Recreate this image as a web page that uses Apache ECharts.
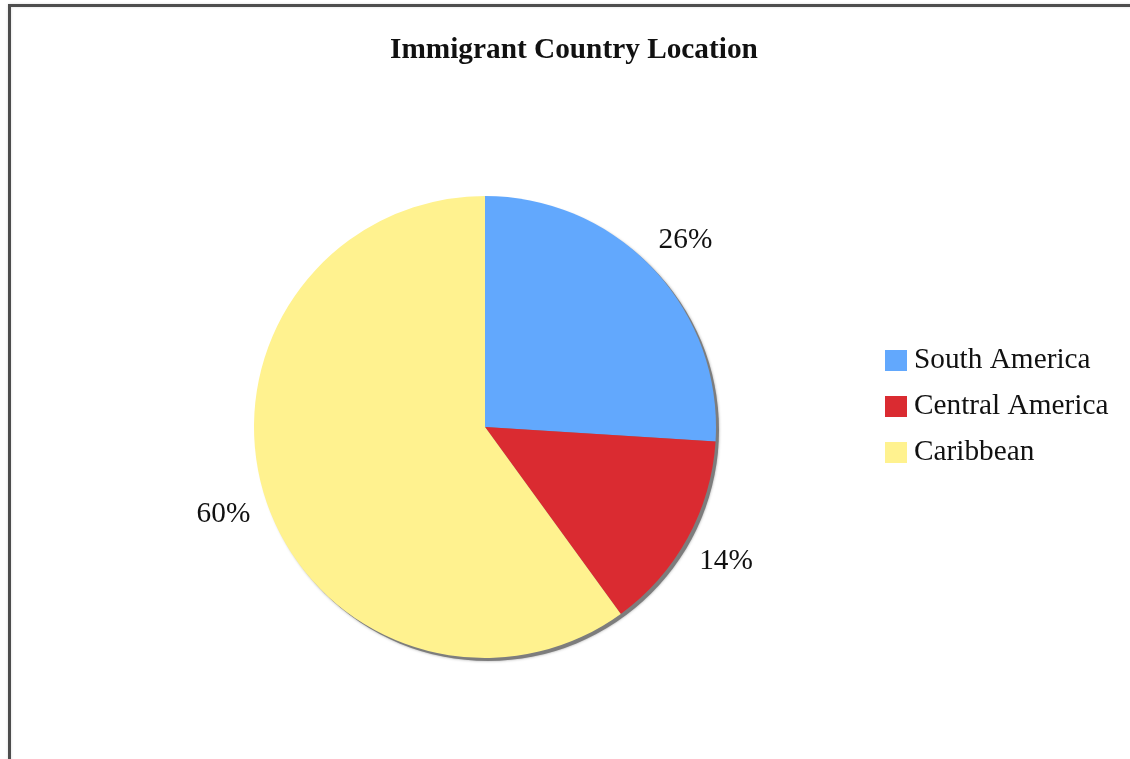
<!DOCTYPE html>
<html>
<head>
<meta charset="utf-8">
<script src="https://cdn.jsdelivr.net/npm/echarts@6/dist/echarts.min.js"></script>
<style>
html,body{margin:0;padding:0;background:#fff;}
#chart{width:1130px;height:759px;}
</style>
</head>
<body>
<div id="chart"></div>
<script>
const titleText = 'Immigrant Country Location';
const categories = ['South America', 'Central America', 'Caribbean'];
const percentValues = [26, 14, 60];
const sliceColors = ['#62A8FD', '#DA2B31', '#FFF28F'];

const chart = echarts.init(document.getElementById('chart'), null, {renderer: 'canvas'});

const mainData = categories.map((c, i) => ({name: c, value: percentValues[i], itemStyle: {color: sliceColors[i]}}));
const labelData = categories.map((c, i) => ({name: c, value: percentValues[i]}));

const CENTER = [485, 427];
const R = 231;
const serif = '"Liberation Serif", "Times New Roman", serif';

chart.setOption({
  animation: false,
  backgroundColor: '#fff',
  graphic: [{
    type: 'rect',
    shape: {x: 9.5, y: 5.5, width: 1300, height: 1000},
    style: {fill: 'none', stroke: '#4d4d4d', lineWidth: 3, shadowColor: 'rgba(0,0,0,0.15)', shadowBlur: 3},
    silent: true,
    z: 0
  }],
  title: {
    text: titleText,
    left: 390,
    top: 36,
    padding: 0,
    textStyle: {fontFamily: serif, fontWeight: 'bold', fontSize: 29.3, color: '#111'}
  },
  legend: {
    data: categories,
    orient: 'vertical',
    left: 885,
    top: 346,
    padding: 0,
    itemWidth: 22,
    itemHeight: 21,
    itemGap: 17,
    icon: 'rect',
    selectedMode: false,
    textStyle: {fontFamily: serif, fontSize: 29.3, color: '#111', lineHeight: 29, padding: [0, 0, 0, 2]}
  },
  series: [
    {
      type: 'pie',
      name: 'main',
      center: CENTER,
      radius: R,
      startAngle: 90,
      clockwise: true,
      silent: true,
      label: {show: false},
      labelLine: {show: false},
      itemStyle: {borderWidth: 0},
      data: mainData,
      z: 3
    },
    {
      type: 'pie',
      name: 'shadow',
      center: [CENTER[0] + 3, CENTER[1] + 3],
      radius: R,
      silent: true,
      label: {show: false},
      labelLine: {show: false},
      itemStyle: {color: '#7d7d7d', shadowColor: 'rgba(0,0,0,0.35)', shadowBlur: 3},
      data: [{value: 1, name: ''}],
      z: 2
    },
    {
      type: 'pie',
      name: 'labels',
      center: [CENTER[0], CENTER[1] + 2],
      radius: [R + 31, R + 51],
      startAngle: 90,
      clockwise: true,
      silent: true,
      itemStyle: {color: 'rgba(0,0,0,0)'},
      labelLine: {show: false},
      label: {
        show: true,
        position: 'inside',
        formatter: p => p.value + '%',
        fontFamily: serif,
        fontSize: 29.3,
        color: '#111'
      },
      data: labelData,
      z: 4
    }
  ]
});
</script>
</body>
</html>
